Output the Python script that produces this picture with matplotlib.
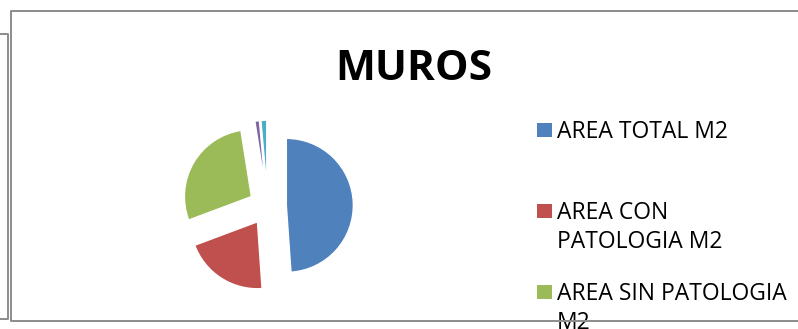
import matplotlib
matplotlib.use("Agg")
import matplotlib.pyplot as plt
from matplotlib.lines import Line2D
from matplotlib.patches import Rectangle

# Datos del grafico de muros (porcentaje de cada porcion)
valores = [48.9, 20.4, 28.2, 1.1, 1.4]
colores = ["#4F81BD", "#C0504D", "#9BBB59", "#8064A2", "#4BACC6"]
etiquetas = ["AREA TOTAL M2", "AREA CON\nPATOLOGIA M2", "AREA SIN PATOLOGIA\nM2"]
titulo = "MUROS"

W, H = 798, 329
fig = plt.figure(figsize=(W / 100, H / 100), dpi=100)
fig.patch.set_facecolor("white")
plt.rcParams["font.family"] = ["Open Sans", "DejaVu Sans"]


def fx(x):
    return x / W


def fy(y):
    return 1 - y / H


# Pastel separado, empieza arriba y gira en sentido horario
cx, cy, lado, radio_px = 267.6, 206, 200, 67
ax = fig.add_axes([fx(cx - lado / 2), fy(cy + lado / 2), lado / W, lado / H])
ax.pie(valores, colors=colores, startangle=90, counterclock=False,
       explode=[0.28] * len(valores),
       wedgeprops=dict(edgecolor="white", linewidth=1))
lim = lado / (2 * radio_px)
ax.set_xlim(-lim, lim)
ax.set_ylim(-lim, lim)
ax.set_aspect("equal")
ax.axis("off")

# Titulo
fig.text(fx(414), fy(80), titulo, ha="center", va="baseline",
         fontsize=30.5, fontweight="bold", color="black")

# Leyenda dibujada a mano (cuadro alineado con la primera linea)
base0, paso, interlinea = 138, 81, 29
for i, (etq, col) in enumerate(zip(etiquetas, colores)):
    base = base0 + paso * i
    fig.add_artist(Rectangle((fx(537), fy(base - 1.5)), 14.5 / W, 14 / H,
                             transform=fig.transFigure, facecolor=col,
                             edgecolor="none"))
    for j, linea in enumerate(etq.split("\n")):
        fig.text(fx(557), fy(base + interlinea * j), linea, ha="left",
                 va="baseline", fontsize=16.5, color="black")

# Marcos de los graficos
gris = "#8C8C8C"
marcos = [
    ([0, 8, 8, 0], [34, 34, 319, 319]),
    ([W, 11, 11, W], [11, 11, 321, 321]),
]
for xs, ys in marcos:
    fig.add_artist(Line2D([fx(x) for x in xs], [fy(y) for y in ys],
                          transform=fig.transFigure, color=gris,
                          linewidth=1.4, zorder=10))

fig.savefig("out.png", dpi=100)
